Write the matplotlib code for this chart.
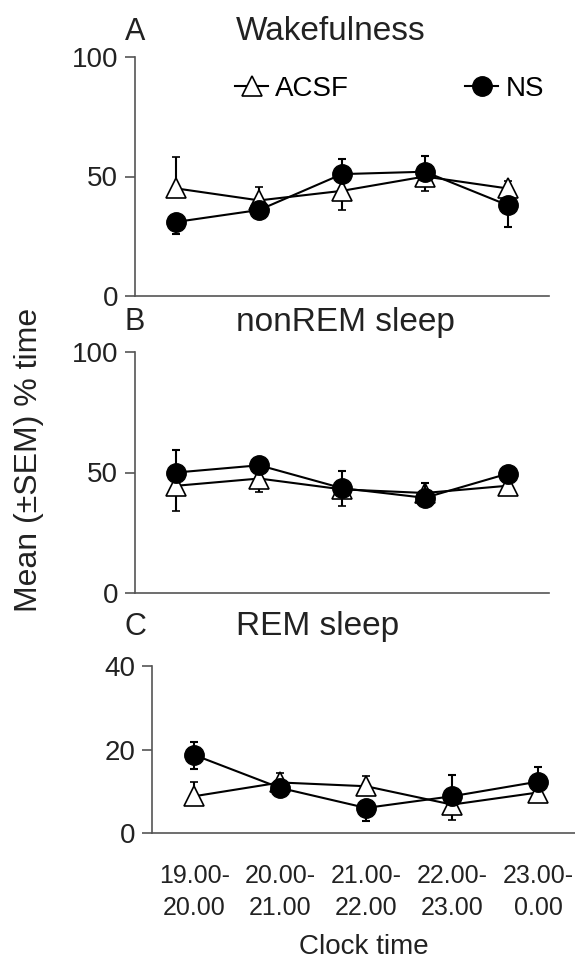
import numpy as np
import matplotlib.pyplot as plt
from matplotlib.lines import Line2D

plt.rcParams['font.family'] = ['Liberation Sans', 'DejaVu Sans']

# clock time categories
times = ['19.00-\n20.00', '20.00-\n21.00', '21.00-\n22.00', '22.00-\n23.00', '23.00-\n0.00']

# A - wakefulness
wake_acsf = [45, 40, 44, 50, 45]
wake_acsf_lo = [0, 0, 8, 6, 0]
wake_acsf_hi = [13, 5.5, 0, 0, 3]
wake_ns = [31, 36, 51, 52, 38]
wake_ns_lo = [5, 0, 0, 0, 9]
wake_ns_hi = [0, 0, 6.5, 6.5, 0]

# B - nonREM sleep
nrem_acsf = [44.5, 47.5, 43, 41.5, 44.5]
nrem_acsf_lo = [10.5, 5.5, 7, 0, 0]
nrem_acsf_hi = [0, 0, 0, 0, 0]
nrem_ns = [50, 53, 43.5, 39.5, 49.5]
nrem_ns_lo = [0, 0, 0, 0, 0]
nrem_ns_hi = [9.5, 0, 7, 6, 0]

# C - REM sleep
rem_acsf = [8.8, 12.1, 11.2, 6.8, 9.7]
rem_acsf_lo = [0, 0, 0, 3.6, 2.1]
rem_acsf_hi = [3.3, 2.3, 2.5, 0, 0]
rem_ns = [18.7, 10.8, 6.0, 8.8, 12.3]
rem_ns_lo = [3.3, 0, 3.2, 0, 0]
rem_ns_hi = [3.2, 0, 0, 5.2, 3.4]

W, H = 575, 959
fig = plt.figure(figsize=(W / 100, H / 100), dpi=100)

tri_style = dict(color='black', lw=1.5, marker='^', ms=15, mfc='white', mec='black', mew=1.2)
dot_style = dict(color='black', lw=1.5, marker='o', ms=14, mfc='black', mec='black')


def px_axes(left, right, top, bottom):
    return fig.add_axes([left / W, 1 - bottom / H, (right - left) / W, (bottom - top) / H])


def draw(ax, acsf, acsf_lo, acsf_hi, ns, ns_lo, ns_hi, ymax, yticks):
    x = np.arange(len(times))
    ax.errorbar(x, acsf, yerr=[acsf_lo, acsf_hi], capsize=3, elinewidth=1.5,
                capthick=1.5, zorder=3, **tri_style)
    ax.errorbar(x, ns, yerr=[ns_lo, ns_hi], capsize=3, elinewidth=1.5,
                capthick=1.5, zorder=4, **dot_style)
    ax.set_ylim(0, ymax)
    ax.set_yticks(yticks)
    ax.spines['top'].set_visible(False)
    ax.spines['right'].set_visible(False)
    for s in ('left', 'bottom'):
        ax.spines[s].set_color('#555555')
        ax.spines[s].set_linewidth(1.2)
    ax.tick_params(axis='y', direction='out', length=7, width=1.2, color='#555555',
                   labelsize=20, pad=5, labelcolor='#222222')
    ax.tick_params(axis='x', length=0)
    return x


axA = px_axes(135, 549, 57, 296)
x = draw(axA, wake_acsf, wake_acsf_lo, wake_acsf_hi, wake_ns, wake_ns_lo, wake_ns_hi, 100, [0, 50, 100])
axA.set_xlim(-0.5, 4.5)
axA.set_xticks([])

leg_kw = dict(frameon=False, loc='center left', borderpad=0, borderaxespad=0,
              handlelength=1.2, handletextpad=0.25, fontsize=20)
leg1 = fig.legend([Line2D([], [], **tri_style)], ['ACSF'],
                  bbox_to_anchor=(235 / W, 1 - 89 / H), **leg_kw)
fig.legend([Line2D([], [], **dot_style)], ['NS'],
           bbox_to_anchor=(465 / W, 1 - 89 / H), **leg_kw)

axB = px_axes(135, 549, 352, 593)
draw(axB, nrem_acsf, nrem_acsf_lo, nrem_acsf_hi, nrem_ns, nrem_ns_lo, nrem_ns_hi, 100, [0, 50, 100])
axB.set_xlim(-0.5, 4.5)
axB.set_xticks([])

axC = px_axes(152, 575, 666, 833)
draw(axC, rem_acsf, rem_acsf_lo, rem_acsf_hi, rem_ns, rem_ns_lo, rem_ns_hi, 40, [0, 20, 40])
axC.set_xlim(-0.49, 4.43)
axC.set_xticks(x)
axC.set_xticklabels(times, fontsize=18, linespacing=1.45, color='#222222')
axC.tick_params(axis='x', pad=22)
axC.set_xlabel('Clock time', fontsize=20, labelpad=10, color='#222222')

for lab, title, y in [('A', 'Wakefulness', 32), ('B', 'nonREM sleep', 322), ('C', 'REM sleep', 627)]:
    fig.text(135 / W, 1 - y / H, lab, fontsize=22, ha='center', va='center', color='#222222')
    fig.text(236 / W, 1 - y / H, title, fontsize=24, ha='left', va='center', color='#222222')

fig.text(29 / W, 1 - 460 / H, 'Mean (\u00b1SEM) % time', fontsize=23, rotation=90,
         ha='center', va='center', color='#222222')

fig.savefig('out.png', dpi=100)
